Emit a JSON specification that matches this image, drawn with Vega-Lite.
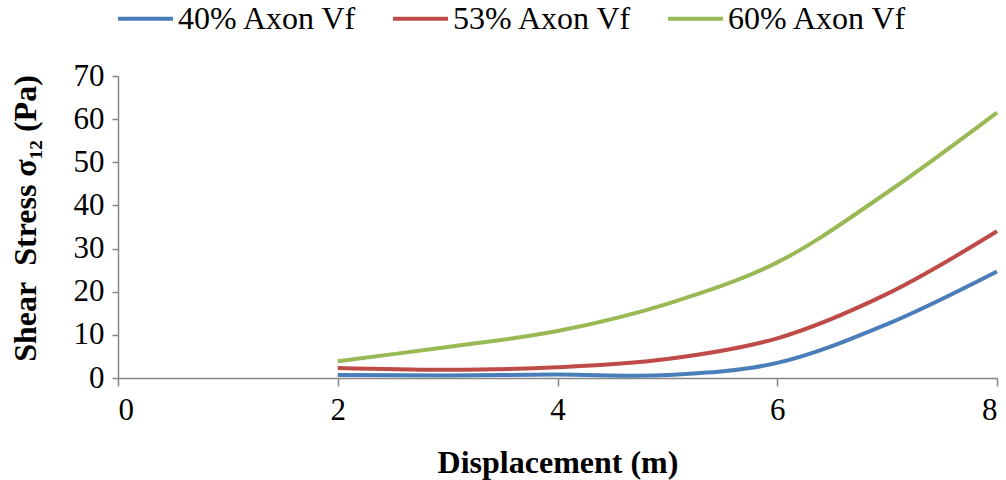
{
  "$schema": "https://vega.github.io/schema/vega-lite/v6.json",
  "autosize": {"type": "none"},
  "width": 879,
  "height": 302,
  "padding": {"left": 118, "top": 76, "right": 9, "bottom": 102},
  "background": "white",
  "config": {
    "view": {"stroke": null},
    "font": "Liberation Serif"
  },
  "data": {
    "values": [
      {"x": 2, "y": 0.7, "s": "40% Axon Vf"},
      {"x": 3, "y": 0.6, "s": "40% Axon Vf"},
      {"x": 4, "y": 0.8, "s": "40% Axon Vf"},
      {"x": 5, "y": 0.7, "s": "40% Axon Vf"},
      {"x": 6, "y": 3.5, "s": "40% Axon Vf"},
      {"x": 7, "y": 12.5, "s": "40% Axon Vf"},
      {"x": 8, "y": 24.7, "s": "40% Axon Vf"},
      {"x": 2, "y": 2.3, "s": "53% Axon Vf"},
      {"x": 3, "y": 1.9, "s": "53% Axon Vf"},
      {"x": 4, "y": 2.5, "s": "53% Axon Vf"},
      {"x": 5, "y": 4.4, "s": "53% Axon Vf"},
      {"x": 6, "y": 9.2, "s": "53% Axon Vf"},
      {"x": 7, "y": 19.5, "s": "53% Axon Vf"},
      {"x": 8, "y": 34, "s": "53% Axon Vf"},
      {"x": 2, "y": 3.9, "s": "60% Axon Vf"},
      {"x": 3, "y": 7.2, "s": "60% Axon Vf"},
      {"x": 4, "y": 10.9, "s": "60% Axon Vf"},
      {"x": 5, "y": 17.2, "s": "60% Axon Vf"},
      {"x": 6, "y": 26.8, "s": "60% Axon Vf"},
      {"x": 7, "y": 43, "s": "60% Axon Vf"},
      {"x": 8, "y": 61.5, "s": "60% Axon Vf"}
    ]
  },
  "mark": {"type": "line", "strokeWidth": 4, "interpolate": "catmull-rom"},
  "encoding": {
    "x": {
      "field": "x", "type": "quantitative",
      "scale": {"domain": [0, 8], "nice": false},
      "axis": {
        "title": "Displacement (m)",
        "values": [0, 2, 4, 6, 8],
        "grid": false,
        "domainColor": "#868686", "domainWidth": 1.5,
        "tickColor": "#868686", "tickWidth": 1.5, "tickSize": 8,
        "labelFont": "Liberation Serif", "labelFontSize": 31, "labelColor": "black",
        "labelPadding": 9,
        "titleFont": "Liberation Serif", "titleFontSize": 32, "titleFontWeight": "bold", "titleColor": "black",
        "titlePadding": 22
      }
    },
    "y": {
      "field": "y", "type": "quantitative",
      "scale": {"domain": [0, 70], "nice": false},
      "axis": {
        "title": "Shear\u00a0 Stress σ₁₂ (Pa)",
        "values": [0, 10, 20, 30, 40, 50, 60, 70],
        "grid": false,
        "domainColor": "#868686", "domainWidth": 1.5,
        "tickColor": "#868686", "tickWidth": 1.5, "tickSize": 6,
        "labelFont": "Liberation Serif", "labelFontSize": 31, "labelColor": "black",
        "labelPadding": 8,
        "titleFont": "Liberation Serif", "titleFontSize": 32, "titleFontWeight": "bold", "titleColor": "black",
        "titlePadding": 31,
        "titleY": 142
      }
    },
    "color": {
      "field": "s", "type": "nominal",
      "scale": {"domain": ["40% Axon Vf", "53% Axon Vf", "60% Axon Vf"], "range": ["#4A7EBB", "#BE4B48", "#98B954"]},
      "legend": {
        "title": null,
        "orient": "none",
        "direction": "horizontal",
        "legendX": -2,
        "legendY": -87,
        "symbolType": "stroke",
        "symbolSize": 3025,
        "symbolStrokeWidth": 4,
        "labelFont": "Liberation Serif",
        "labelFontSize": 32,
        "labelColor": "black",
        "labelOffset": 3,
        "columnPadding": 27,
        "labelLimit": 300
      }
    }
  }
}
